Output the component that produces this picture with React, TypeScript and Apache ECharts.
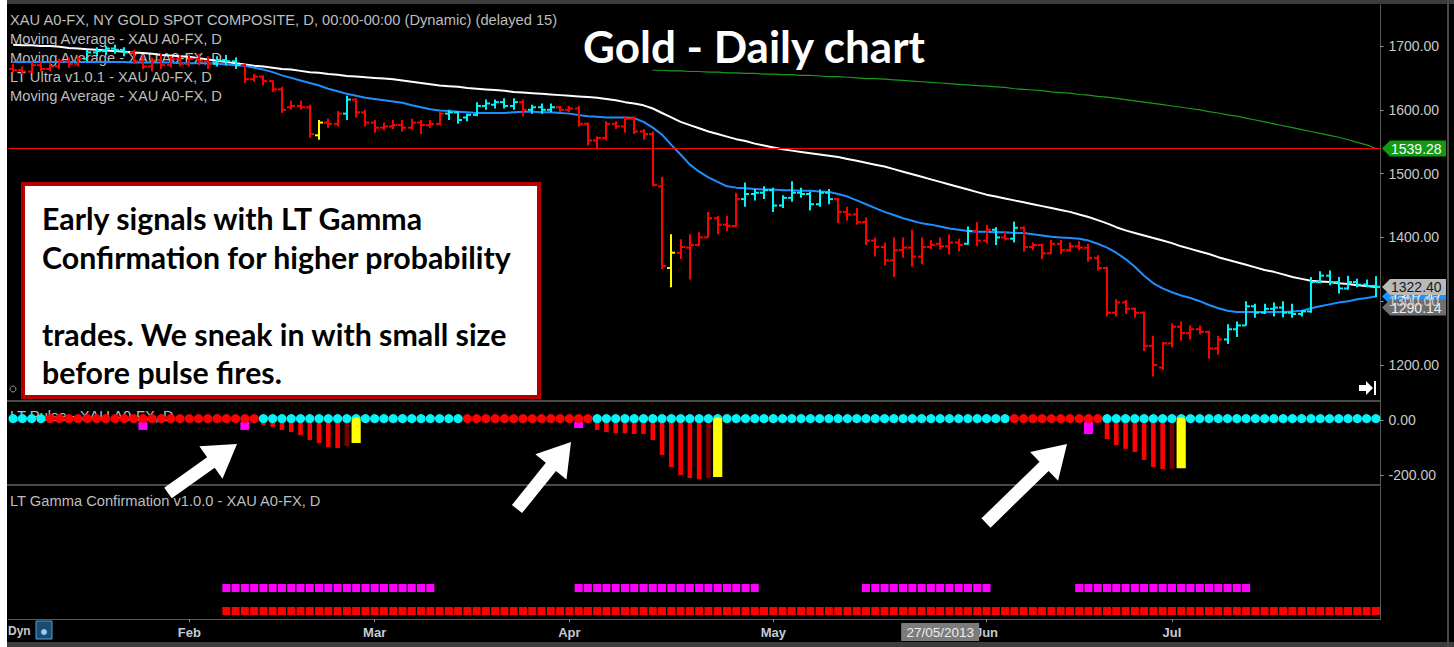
import React, { useEffect, useRef } from "react";
import * as echarts from "echarts";

// ---------- categories (trading days) ----------
const FIRST_DAY = [2013, 0, 7];
const BAR_COUNT = 148;
const MONTHS = ["Jan", "Feb", "Mar", "Apr", "May", "Jun", "Jul", "Aug", "Sep", "Oct", "Nov", "Dec"];
const CROSSHAIR_DATE = "27/05/2013";

const DATES: string[] = [];
const MONTH_OF: number[] = [];
{
  const d = new Date(Date.UTC(FIRST_DAY[0], FIRST_DAY[1], FIRST_DAY[2]));
  while (DATES.length < BAR_COUNT) {
    const wd = d.getUTCDay();
    if (wd !== 0 && wd !== 6) {
      const dd = String(d.getUTCDate()).padStart(2, "0");
      const mm = String(d.getUTCMonth() + 1).padStart(2, "0");
      DATES.push(`${dd}/${mm}/${d.getUTCFullYear()}`);
      MONTH_OF.push(d.getUTCMonth());
    }
    d.setUTCDate(d.getUTCDate() + 1);
  }
}

// ---------- price bars ----------
const OPEN = [
  1664, 1662, 1660, 1670, 1664, 1668, 1676, 1672, 1680, 1690,
  1692, 1696, 1694, 1690, 1676, 1668, 1678, 1670, 1680, 1672,
  1680, 1676, 1672, 1678, 1676, 1670, 1648, 1652, 1645, 1632,
  1604, 1606, 1604, 1560, 1580, 1578, 1594, 1616, 1596, 1580,
  1572, 1574, 1576, 1572, 1580, 1576, 1578, 1594, 1596, 1588,
  1592, 1606, 1608, 1612, 1606, 1612, 1600, 1604, 1600, 1604,
  1600, 1602, 1578, 1552, 1556, 1578, 1574, 1586, 1566, 1562,
  1480, 1352, 1376, 1384, 1388, 1400, 1430, 1420, 1418, 1460,
  1468, 1470, 1474, 1450, 1462, 1470, 1468, 1452, 1470, 1460,
  1440, 1436, 1424, 1395, 1385, 1364, 1380, 1384, 1370, 1385,
  1390, 1386, 1392, 1390, 1410, 1395, 1412, 1400, 1398, 1415,
  1385, 1388, 1375, 1390, 1380, 1386, 1384, 1368, 1352, 1282,
  1298, 1288, 1282, 1230, 1196, 1234, 1260, 1250, 1256, 1252,
  1226, 1240, 1256, 1262, 1292, 1282, 1288, 1290, 1282, 1280,
  1284, 1330, 1340, 1330, 1320, 1330, 1326, 1324,
];
const HIGH = [
  1672, 1668, 1675, 1676, 1674, 1680, 1682, 1684, 1694, 1698,
  1700, 1702, 1698, 1694, 1686, 1682, 1688, 1684, 1686, 1686,
  1688, 1684, 1684, 1686, 1682, 1672, 1656, 1654, 1646, 1636,
  1614, 1614, 1608, 1584, 1586, 1598, 1622, 1618, 1600, 1584,
  1580, 1584, 1584, 1586, 1584, 1584, 1598, 1600, 1598, 1594,
  1612, 1616, 1616, 1618, 1618, 1616, 1608, 1610, 1610, 1606,
  1606, 1606, 1580, 1558, 1582, 1582, 1590, 1590, 1570, 1566,
  1495, 1405, 1397, 1405, 1408, 1440, 1434, 1434, 1470, 1486,
  1476, 1480, 1478, 1466, 1488, 1478, 1472, 1475, 1476, 1462,
  1448, 1446, 1431, 1400, 1392, 1400, 1400, 1412, 1400, 1396,
  1400, 1405, 1398, 1417, 1424, 1420, 1416, 1410, 1425, 1417,
  1392, 1390, 1396, 1396, 1392, 1394, 1390, 1372, 1354, 1303,
  1302, 1290, 1284, 1246, 1236, 1265, 1268, 1262, 1262, 1254,
  1246, 1264, 1268, 1300, 1296, 1296, 1298, 1300, 1296, 1286,
  1338, 1347, 1348, 1338, 1340, 1335, 1334, 1339,
];
const LOW = [
  1658, 1656, 1658, 1660, 1660, 1664, 1666, 1668, 1676, 1684,
  1686, 1688, 1684, 1672, 1664, 1660, 1664, 1666, 1668, 1668,
  1670, 1664, 1668, 1670, 1664, 1642, 1644, 1638, 1628, 1595,
  1600, 1600, 1556, 1553, 1572, 1574, 1584, 1588, 1574, 1564,
  1568, 1570, 1566, 1570, 1562, 1572, 1576, 1584, 1578, 1582,
  1590, 1600, 1602, 1602, 1600, 1590, 1594, 1594, 1596, 1596,
  1596, 1574, 1544, 1540, 1552, 1570, 1564, 1562, 1553, 1480,
  1350, 1322, 1366, 1334, 1386, 1400, 1405, 1410, 1416, 1448,
  1458, 1460, 1440, 1446, 1456, 1462, 1442, 1448, 1452, 1422,
  1426, 1420, 1388, 1370, 1356, 1338, 1368, 1354, 1358, 1382,
  1381, 1373, 1378, 1389, 1386, 1390, 1388, 1395, 1392, 1378,
  1380, 1366, 1374, 1374, 1378, 1380, 1362, 1348, 1276, 1276,
  1280, 1274, 1222, 1182, 1192, 1228, 1238, 1240, 1248, 1210,
  1216, 1233, 1244, 1262, 1274, 1280, 1276, 1275, 1274, 1276,
  1282, 1328, 1325, 1312, 1318, 1322, 1322, 1306,
];
const CLOSE = [
  1662, 1660, 1670, 1664, 1668, 1676, 1672, 1680, 1690, 1692,
  1696, 1694, 1690, 1676, 1668, 1678, 1670, 1680, 1672, 1680,
  1676, 1672, 1678, 1676, 1670, 1648, 1652, 1645, 1632, 1600,
  1606, 1604, 1562, 1580, 1578, 1594, 1616, 1596, 1580, 1572,
  1574, 1576, 1572, 1580, 1576, 1578, 1594, 1596, 1584, 1592,
  1606, 1610, 1612, 1606, 1612, 1600, 1604, 1600, 1604, 1600,
  1602, 1578, 1552, 1556, 1578, 1574, 1586, 1566, 1562, 1482,
  1355, 1376, 1385, 1388, 1400, 1430, 1420, 1418, 1460, 1468,
  1470, 1474, 1450, 1462, 1470, 1468, 1452, 1470, 1460, 1440,
  1436, 1424, 1395, 1385, 1364, 1380, 1384, 1370, 1385, 1388,
  1386, 1392, 1388, 1410, 1395, 1412, 1400, 1398, 1415, 1385,
  1388, 1375, 1390, 1380, 1386, 1384, 1368, 1352, 1282, 1298,
  1288, 1282, 1230, 1200, 1234, 1260, 1250, 1256, 1252, 1226,
  1240, 1256, 1262, 1292, 1282, 1288, 1290, 1282, 1280, 1284,
  1330, 1340, 1330, 1320, 1330, 1326, 1324, 1322.4,
];
// r = red, c = cyan, y = yellow (LT Ultra colouring)
const BAR_COLOR =
  "rrrrrrrr" + "ccccc" + "rrrrrrrrr" + "ccc" + "rrrrrrrr" + "y" + "rr" + "c" +
  "rrrrrrrrrr" + "cccccccc" + "r" + "ccc" + "rrrrrrrrrrrr" + "y" + "rrrrrrr" +
  "cccccccccc" + "rrrrrrrrrrrrrr" + "c" + "rr" + "c" + "r" + "c" +
  "rrrrrrrrrrrrrrrrrrrrrr" + "ccccccccccccccccc";

// ---------- moving averages ----------
const WHITE_MA = [
  1702, 1701, 1701, 1700, 1700, 1699, 1697, 1696, 1695, 1694,
  1693, 1692, 1691, 1690, 1689, 1688, 1686, 1685, 1684, 1683,
  1681, 1679, 1677, 1675, 1673, 1671, 1669, 1668, 1666, 1664,
  1663, 1661, 1659, 1658, 1656, 1655, 1653, 1652, 1651, 1650,
  1649, 1648, 1646, 1644, 1642, 1640, 1638, 1637, 1636, 1634,
  1633, 1632, 1631, 1630, 1628, 1627, 1626, 1625, 1624, 1623,
  1622, 1621, 1620, 1619, 1617, 1615, 1612, 1610, 1607, 1602,
  1595, 1588, 1581, 1576, 1571, 1566, 1562, 1558, 1554, 1551,
  1547, 1544, 1541, 1538, 1536, 1534, 1532, 1530, 1528, 1526,
  1523, 1520, 1517, 1514, 1511, 1507, 1503, 1499, 1495, 1491,
  1487, 1483, 1479, 1475, 1471, 1467, 1464, 1461, 1458, 1455,
  1452, 1449, 1446, 1443, 1440, 1436, 1432, 1427, 1422, 1416,
  1411, 1407, 1403, 1399, 1395, 1391, 1386, 1382, 1378, 1374,
  1369, 1365, 1361, 1357, 1353, 1349, 1346, 1342, 1338, 1335,
  1332, 1331, 1330, 1328, 1327, 1325, 1324, 1322.4,
];
const BLUE_MA = [
  1675, 1675, 1675, 1675, 1675, 1675, 1675, 1675, 1675, 1675,
  1675, 1675, 1675, 1674, 1674, 1674, 1674, 1674, 1673, 1673,
  1673, 1673, 1672, 1671, 1670, 1669, 1666, 1663, 1659, 1654,
  1650, 1646, 1642, 1638, 1633, 1629, 1625, 1622, 1619, 1617,
  1615, 1613, 1611, 1607, 1604, 1601, 1599, 1598, 1597, 1596,
  1595, 1595, 1595, 1595, 1596, 1597, 1597, 1596, 1596, 1595,
  1594, 1592, 1590, 1589, 1588, 1588, 1588, 1587, 1581, 1572,
  1561, 1545, 1530, 1514, 1503, 1494, 1487, 1480, 1478, 1477,
  1476, 1475, 1475, 1474, 1474, 1473, 1473, 1472, 1471, 1468,
  1464, 1458, 1452, 1446, 1440, 1435, 1430, 1426, 1422, 1420,
  1417, 1414, 1412, 1410, 1409, 1409, 1408, 1408, 1407, 1407,
  1405, 1403, 1401, 1400, 1399, 1398, 1395, 1390, 1384, 1376,
  1366, 1354, 1340, 1328, 1320, 1314, 1309, 1305, 1300, 1294,
  1289, 1285, 1283, 1283, 1283, 1283, 1283, 1283, 1284, 1285,
  1289, 1292, 1295, 1298, 1300, 1303, 1305, 1307.47,
];
const GREEN_MA_START = 69;
const GREEN_MA = [
  1662, 1662, 1661, 1661, 1660, 1660, 1659, 1659, 1658, 1658,
  1657, 1657, 1656, 1656, 1655, 1655, 1654, 1654, 1653, 1652,
  1652, 1651, 1650, 1649, 1649, 1648, 1647, 1646, 1645, 1644,
  1643, 1642, 1641, 1640, 1639, 1638, 1637, 1636, 1635, 1633,
  1632, 1631, 1630, 1628, 1627, 1626, 1624, 1623, 1621, 1620,
  1618, 1616, 1614, 1612, 1610, 1608, 1606, 1604, 1602, 1600,
  1597, 1595, 1592, 1590, 1587, 1584, 1581, 1578, 1575, 1572,
  1569, 1566, 1563, 1560, 1557, 1553, 1549, 1545, 1539.28,
];
const RED_LEVEL = 1539.28;
const LAST_LABELS = [
  { value: 1307.47, fill: "#1e8fff", text: "#ffffff" },
  { value: 1322.4, fill: "#b9b9b9", text: "#1a1a1a" },
  { value: 1290.14, fill: "#6e6e6e", text: "#f0f0f0" },
  { value: 1539.28, fill: "#129a12", text: "#ffffff" },
];

// ---------- LT Pulse ----------
const PULSE_DOTS =
  "cccc" + "rrrrrrrrrrrrrrrrrrrrrrr" + "cccccccccccccccccccccc" + "rrrrrrrrrrrrrr" +
  "ccccccccccccccccccccccccccccccccccccccccccccc" + "rrrrrrrrrr" + "cccccccccccccccccccccccccccccc";
const PULSE_HIST_IDX = [
  27, 28, 29, 30, 31, 32, 33, 34, 35, 36, 37,
  63, 64, 65, 66, 67, 68, 69, 70, 71, 72, 73, 74, 75, 76,
  118, 119, 120, 121, 122, 123, 124, 125, 126,
];
const PULSE_HIST_VAL = [
  -18, -25, -36, -44, -55, -73, -84, -98, -102, -95, -84,
  -36, -44, -48, -48, -51, -51, -73, -127, -171, -200, -211, -215, -211, -207,
  -69, -91, -105, -116, -145, -171, -178, -178, -175,
];
// r = red, d = dark red, y = yellow
const PULSE_HIST_KIND = "rrrrrrrrrdy" + "rrrrrrrrrrrrdy" + "rrrrrrrdy";
const PULSE_MARK_IDX = [14, 25, 61, 116];
const PULSE_MARK_DEPTH = [-36, -36, -29, -51];

// ---------- LT Gamma Confirmation ----------
const GAMMA_TOP_RANGES = [[23, 45], [61, 80], [92, 105], [115, 133]];
const GAMMA_BOTTOM_RANGES = [[23, 147]];

const COLORS: Record<string, string> = {
  r: "#ff0000",
  c: "#00f4f8",
  y: "#ffff00",
  d: "#7a0000",
};

const AXIS_FONT = "'Liberation Sans', Arial, sans-serif";

function arrowPoints(x1: number, y1: number, x2: number, y2: number) {
  const sw = 13, hl = 32, hw = 40;
  const dx = x2 - x1, dy = y2 - y1;
  const len = Math.hypot(dx, dy);
  const ux = dx / len, uy = dy / len;
  const px = -uy, py = ux;
  const bx = x2 - ux * hl, by = y2 - uy * hl;
  return [
    [x1 + (px * sw) / 2, y1 + (py * sw) / 2],
    [bx + (px * sw) / 2, by + (py * sw) / 2],
    [bx + (px * hw) / 2, by + (py * hw) / 2],
    [x2, y2],
    [bx - (px * hw) / 2, by - (py * hw) / 2],
    [bx - (px * sw) / 2, by - (py * sw) / 2],
    [x1 - (px * sw) / 2, y1 - (py * sw) / 2],
  ];
}

export default function App() {
  const ref = useRef<HTMLDivElement>(null);

  useEffect(() => {
    document.body.style.margin = "0";
    const chart = echarts.init(ref.current!, null, { renderer: "svg" });

    const ohlcData = OPEN.map((o, i) => ({
      value: [i, o, HIGH[i], LOW[i], CLOSE[i]],
      color: COLORS[BAR_COLOR[i]],
    }));

    const greenData = DATES.map((_, i) =>
      i >= GREEN_MA_START ? GREEN_MA[i - GREEN_MA_START] : null
    );

    const dotData = DATES.map((_, i) => ({
      value: [i, 5],
      itemStyle: { color: COLORS[PULSE_DOTS[i]], opacity: 1 },
    }));
    const histData: { value: number[]; kind: string }[] = [];
    const yellowData: { value: number[] }[] = [];
    PULSE_HIST_IDX.forEach((idx, k) => {
      if (PULSE_HIST_KIND[k] === "y") yellowData.push({ value: [idx, PULSE_HIST_VAL[k]] });
      else histData.push({ value: [idx, PULSE_HIST_VAL[k]], kind: PULSE_HIST_KIND[k] });
    });
    const markData = PULSE_MARK_IDX.map((idx, k) => ({ value: [idx, PULSE_MARK_DEPTH[k]] }));

    const gammaTop: number[][] = [];
    GAMMA_TOP_RANGES.forEach(([a, b]) => {
      for (let i = a; i <= b; i++) gammaTop.push([i, 31]);
    });
    const gammaBottom: number[][] = [];
    GAMMA_BOTTOM_RANGES.forEach(([a, b]) => {
      for (let i = a; i <= b; i++) gammaBottom.push([i, 8]);
    });

    const isMonthStart = (i: number) => i > 0 && MONTH_OF[i] !== MONTH_OF[i - 1];

    const gridLeft = 8.5;
    const gridWidth = 1372;

    const xAxisBase = {
      type: "category" as const,
      data: DATES,
      boundaryGap: true,
    };

    const valueAxisLabel = {
      color: "#c8c8c8",
      fontSize: 14,
      fontFamily: AXIS_FONT,
      margin: 8,
      showMinLabel: false,
      showMaxLabel: false,
      formatter: (v: number) => v.toFixed(2),
    };

    const option: any = {
      animation: false,
      backgroundColor: "#000000",
      grid: [
        { left: gridLeft, width: gridWidth, top: 5, height: 396 },
        { left: gridLeft, width: gridWidth, top: 402, height: 83 },
        { left: gridLeft, width: gridWidth, top: 487, height: 132 },
      ],
      xAxis: [
        { ...xAxisBase, gridIndex: 0, show: false },
        { ...xAxisBase, gridIndex: 1, show: false },
        {
          ...xAxisBase,
          gridIndex: 2,
          axisLine: { show: true, lineStyle: { color: "#5a5a5a", width: 1 } },
          axisTick: {
            show: true,
            alignWithLabel: true,
            length: 3,
            interval: (i: number) => isMonthStart(i),
            lineStyle: { color: "#8a8a8a" },
          },
          axisLabel: {
            interval: (i: number) => isMonthStart(i),
            formatter: (_v: string, i: number) => MONTHS[MONTH_OF[i]],
            color: "#c4ccd4",
            fontSize: 13,
            fontWeight: "bold",
            fontFamily: AXIS_FONT,
            margin: 7,
          },
          splitLine: { show: false },
        },
      ],
      yAxis: [
        {
          gridIndex: 0,
          type: "value",
          position: "right",
          min: 1143.57,
          max: 1764.26,
          splitNumber: 6,
          axisLine: { show: true, lineStyle: { color: "#5a5a5a" } },
          axisTick: { show: true, length: 3, lineStyle: { color: "#9a9a9a" } },
          axisLabel: valueAxisLabel,
          splitLine: { show: false },
        },
        {
          gridIndex: 1,
          type: "value",
          position: "right",
          min: -236.36,
          max: 65.45,
          splitNumber: 2,
          axisLine: { show: true, lineStyle: { color: "#5a5a5a" } },
          axisTick: { show: true, length: 3, lineStyle: { color: "#9a9a9a" } },
          axisLabel: valueAxisLabel,
          splitLine: { show: false },
        },
        {
          gridIndex: 2,
          type: "value",
          position: "right",
          min: 0,
          max: 132,
          axisLine: { show: true, lineStyle: { color: "#5a5a5a" } },
          axisTick: { show: false },
          axisLabel: { show: false },
          splitLine: { show: false },
        },
      ],
      series: [
        {
          name: "MA200",
          type: "line",
          xAxisIndex: 0,
          yAxisIndex: 0,
          data: greenData,
          showSymbol: false,
          lineStyle: { color: "#1a9a1a", width: 1.2 },
          z: 3,
          markLine: {
            silent: true,
            symbol: ["none", "none"],
            label: { show: false },
            lineStyle: { color: "#ff0000", width: 1, type: "solid" },
            data: [{ yAxis: RED_LEVEL }],
          },
        },
        {
          name: "MA50",
          type: "line",
          xAxisIndex: 0,
          yAxisIndex: 0,
          data: WHITE_MA,
          showSymbol: false,
          lineStyle: { color: "#ffffff", width: 2 },
          z: 3,
        },
        {
          name: "MA20",
          type: "line",
          xAxisIndex: 0,
          yAxisIndex: 0,
          data: BLUE_MA,
          showSymbol: false,
          lineStyle: { color: "#1e8fff", width: 2 },
          z: 3,
        },
        {
          name: "LT Ultra",
          type: "custom",
          xAxisIndex: 0,
          yAxisIndex: 0,
          clip: true,
          z: 4,
          data: ohlcData,
          encode: { x: 0, y: [1, 2, 3, 4] },
          renderItem: (params: any, api: any) => {
            const i = api.value(0);
            const o = api.coord([i, api.value(1)]);
            const h = api.coord([i, api.value(2)]);
            const l = api.coord([i, api.value(3)]);
            const c = api.coord([i, api.value(4)]);
            const color = ohlcData[params.dataIndex].color;
            const x = Math.round(o[0]);
            const st = { stroke: color, lineWidth: 2 };
            return {
              type: "group",
              children: [
                { type: "line", shape: { x1: x, y1: h[1], x2: x, y2: l[1] }, style: st },
                { type: "line", shape: { x1: x - 4, y1: o[1], x2: x, y2: o[1] }, style: st },
                { type: "line", shape: { x1: x, y1: c[1], x2: x + 4, y2: c[1] }, style: st },
              ],
            };
          },
        },
        {
          name: "Pulse hist",
          type: "custom",
          xAxisIndex: 1,
          yAxisIndex: 1,
          z: 3,
          data: histData,
          renderItem: (params: any, api: any) => {
            const i = api.value(0);
            const top = api.coord([i, 0]);
            const bot = api.coord([i, api.value(1)]);
            const kind = histData[params.dataIndex].kind;
            return {
              type: "rect",
              shape: { x: top[0] - 2.3, y: top[1], width: 4.6, height: bot[1] - top[1] },
              style: { fill: COLORS[kind] },
            };
          },
        },
        {
          name: "Pulse marks",
          type: "custom",
          xAxisIndex: 1,
          yAxisIndex: 1,
          z: 3,
          data: markData,
          renderItem: (params: any, api: any) => {
            const i = api.value(0);
            const top = api.coord([i, -7]);
            const bot = api.coord([i, api.value(1)]);
            return {
              type: "rect",
              shape: { x: top[0] - 4.5, y: top[1], width: 9, height: bot[1] - top[1] },
              style: { fill: "#ff00ff" },
            };
          },
        },
        {
          name: "Pulse dots",
          type: "scatter",
          xAxisIndex: 1,
          yAxisIndex: 1,
          z: 4,
          symbol: "circle",
          symbolSize: 9.2,
          itemStyle: { opacity: 1 },
          data: dotData,
        },
        {
          name: "Pulse fire",
          type: "custom",
          xAxisIndex: 1,
          yAxisIndex: 1,
          z: 5,
          data: yellowData,
          renderItem: (params: any, api: any) => {
            const i = api.value(0);
            const top = api.coord([i, 9]);
            const bot = api.coord([i, api.value(1)]);
            return {
              type: "rect",
              shape: { x: top[0] - 4.6, y: top[1], width: 9.2, height: bot[1] - top[1], r: [4, 4, 0, 0] },
              style: { fill: COLORS.y },
            };
          },
        },
        {
          name: "Gamma top",
          type: "scatter",
          xAxisIndex: 2,
          yAxisIndex: 2,
          symbol: "rect",
          symbolSize: 8,
          itemStyle: { color: "#ff00ff", opacity: 1 },
          data: gammaTop,
        },
        {
          name: "Gamma bottom",
          type: "scatter",
          xAxisIndex: 2,
          yAxisIndex: 2,
          symbol: "rect",
          symbolSize: 8,
          itemStyle: { color: "#ff0000", opacity: 1 },
          data: gammaBottom,
        },
      ],
    };

    chart.setOption(option);

    const py = (v: number) => chart.convertToPixel({ yAxisIndex: 0 }, v) as number;
    const px = (i: number) => chart.convertToPixel({ xAxisIndex: 2 }, i) as number;

    const legendLine = (text: string, y: number) => ({
      type: "text",
      x: 10,
      y,
      z: 1,
      style: {
        text,
        fill: "#bdbdbd",
        font: `14.7px ${AXIS_FONT}`,
        align: "left",
        verticalAlign: "middle",
      },
    });

    const valueLabel = (v: number, fill: string, textColor: string) => {
      const yc = py(v);
      const x0 = 1382, x1 = 1446;
      return {
        type: "group",
        z: 60,
        children: [
          {
            type: "polygon",
            shape: {
              points: [
                [x0, yc],
                [x0 + 8, yc - 8],
                [x1, yc - 8],
                [x1, yc + 8],
                [x0 + 8, yc + 8],
              ],
            },
            style: { fill },
          },
          {
            type: "text",
            x: x0 + 9,
            y: yc + 0.5,
            style: {
              text: v.toFixed(2),
              fill: textColor,
              font: `14px ${AXIS_FONT}`,
              align: "left",
              verticalAlign: "middle",
            },
          },
        ],
      };
    };

    const chIdx = DATES.indexOf(CROSSHAIR_DATE);
    const chX = px(chIdx);

    const boxLines = [
      { t: "Early signals with LT Gamma", y: 218 },
      { t: "Confirmation for higher probability", y: 257 },
      { t: "trades. We sneak in with small size", y: 334 },
      { t: "before pulse fires.", y: 372 },
    ];

    const graphic: any[] = [
      // frame
      { type: "rect", z: 0, shape: { x: 0, y: 0, width: 7, height: 647 }, style: { fill: "#ffffff" } },
      { type: "rect", z: 0, shape: { x: 7, y: 0, width: 1447, height: 4 }, style: { fill: "#3c3c3c" } },
      { type: "rect", z: 0, shape: { x: 7, y: 642, width: 1447, height: 5 }, style: { fill: "#3c3c3c" } },
      { type: "rect", z: 0, shape: { x: 1447, y: 0, width: 2, height: 647 }, style: { fill: "#4a4a4a" } },
      { type: "rect", z: 0, shape: { x: 7, y: 400, width: 1374, height: 2 }, style: { fill: "#4a4a4a" } },
      { type: "rect", z: 0, shape: { x: 7, y: 484, width: 1374, height: 2 }, style: { fill: "#4a4a4a" } },
      // legends
      legendLine("XAU A0-FX, NY GOLD SPOT COMPOSITE, D, 00:00-00:00 (Dynamic) (delayed 15)", 20),
      legendLine("Moving Average - XAU A0-FX, D", 39),
      legendLine("Moving Average - XAU A0-FX, D", 58),
      legendLine("LT Ultra v1.0.1 - XAU A0-FX, D", 77),
      legendLine("Moving Average - XAU A0-FX, D", 96),
      legendLine("LT Pulse - XAU A0-FX, D", 416),
      legendLine("LT Gamma Confirmation v1.0.0 - XAU A0-FX, D", 501),
      {
        type: "circle",
        z: 1,
        shape: { cx: 13, cy: 389, r: 3 },
        style: { fill: "none", stroke: "#9a9a9a", lineWidth: 1 },
      },
      // title
      {
        type: "text",
        x: 754,
        y: 46,
        z: 60,
        style: {
          text: "Gold - Daily chart",
          fill: "#ffffff",
          font: "bold 44px Lato, 'Open Sans', sans-serif",
          align: "center",
          verticalAlign: "middle",
        },
      },
      // annotation box
      {
        type: "rect",
        z: 60,
        shape: { x: 23, y: 184, width: 516, height: 213 },
        style: { fill: "#ffffff", stroke: "#b40000", lineWidth: 4 },
      },
      ...boxLines.map((l) => ({
        type: "text",
        x: 42,
        y: l.y,
        z: 61,
        style: {
          text: l.t,
          fill: "#000000",
          font: "bold 30.3px Lato, 'Open Sans', sans-serif",
          align: "left",
          verticalAlign: "middle",
        },
      })),
      // arrows
      ...[
        [168, 493, 237, 444],
        [517, 509, 571, 442],
        [986, 523, 1067, 444],
      ].map(([a, b, c, d]) => ({
        type: "polygon",
        z: 60,
        shape: { points: arrowPoints(a, b, c, d) },
        style: { fill: "#ffffff" },
      })),
      // value labels at right
      ...LAST_LABELS.map((l) => valueLabel(l.value, l.fill, l.text)),
      // scroll-to-end icon
      {
        type: "polygon",
        z: 60,
        shape: {
          points: [
            [1359, 385], [1366, 385], [1366, 381], [1373, 388], [1366, 395], [1366, 391], [1359, 391],
          ],
        },
        style: { fill: "#ffffff" },
      },
      { type: "rect", z: 60, shape: { x: 1374, y: 381, width: 2, height: 14 }, style: { fill: "#ffffff" } },
      // crosshair date box
      {
        type: "rect",
        z: 60,
        shape: { x: chX - 39, y: 623, width: 78, height: 18 },
        style: { fill: "#7c7c7c" },
      },
      {
        type: "text",
        x: chX,
        y: 632.5,
        z: 61,
        style: {
          text: CROSSHAIR_DATE,
          fill: "#ececec",
          font: `13.5px ${AXIS_FONT}`,
          align: "center",
          verticalAlign: "middle",
        },
      },
      // Dyn
      {
        type: "text",
        x: 8,
        y: 631,
        z: 60,
        style: {
          text: "Dyn",
          fill: "#c8c8c8",
          font: `bold 12px ${AXIS_FONT}`,
          align: "left",
          verticalAlign: "middle",
        },
      },
      {
        type: "rect",
        z: 60,
        shape: { x: 36, y: 621, width: 16, height: 18 },
        style: { fill: "#1d4b6e", stroke: "#4aa3e0", lineWidth: 1 },
      },
      {
        type: "circle",
        z: 61,
        shape: { cx: 44, cy: 632, r: 3 },
        style: { fill: "#8fd0ff" },
      },
    ];

    chart.setOption({ graphic });

    return () => chart.dispose();
  }, []);

  return <div ref={ref} style={{ width: 1454, height: 647 }} />;
}
